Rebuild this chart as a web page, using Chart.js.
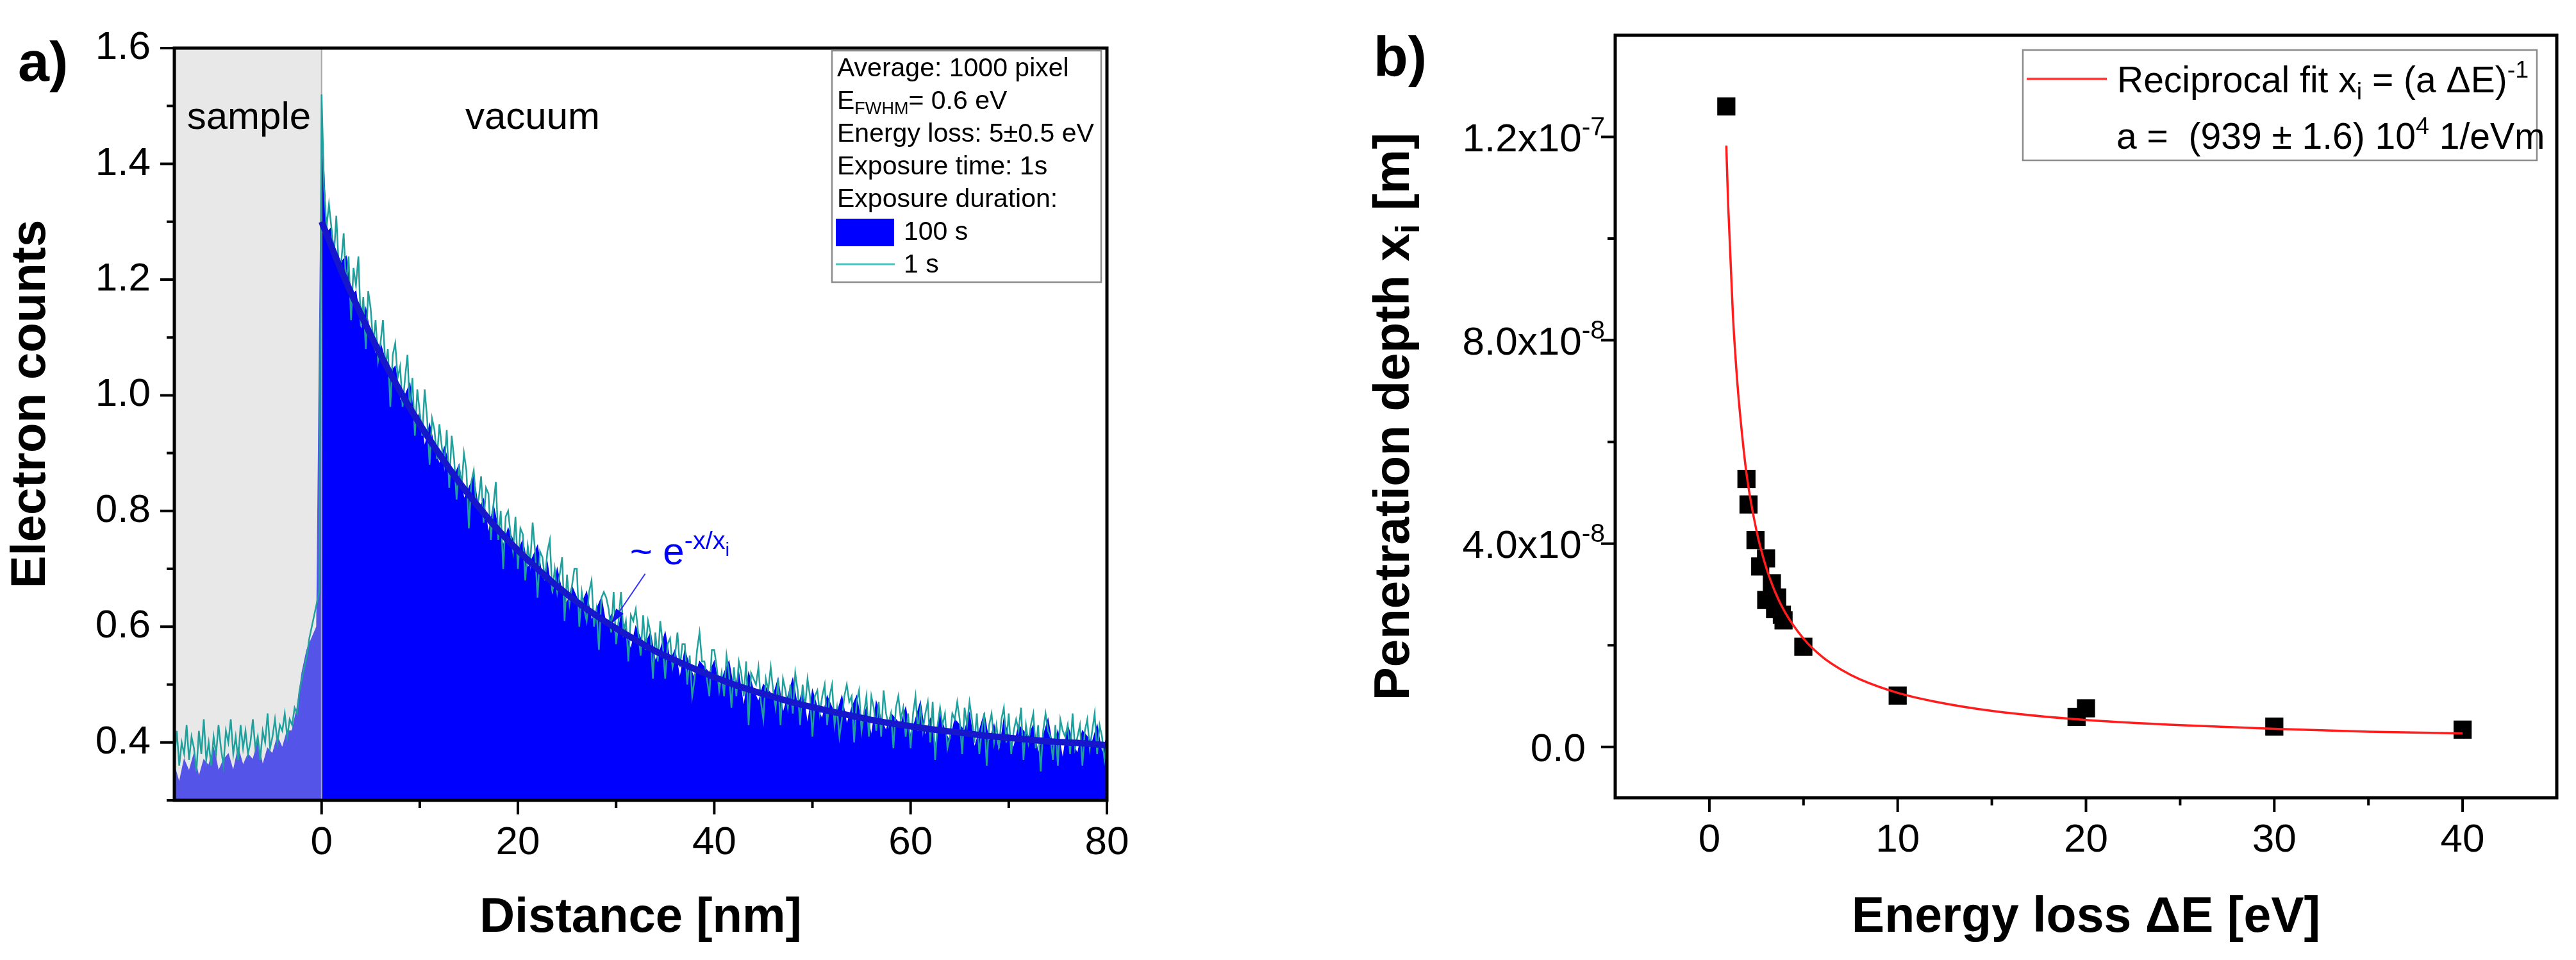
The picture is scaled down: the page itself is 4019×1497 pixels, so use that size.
<!DOCTYPE html>
<html>
<head>
<meta charset="utf-8">
<script src="https://cdn.jsdelivr.net/npm/chart.js@4.4.1/dist/chart.umd.min.js"></script>
<style>
  html, body { margin: 0; padding: 0; background: #fff; }
  body { width: 4019px; height: 1497px; position: relative; overflow: hidden; }
  #chartA { position: absolute; left: 0; top: 0; width: 2000px; height: 1497px; }
  #chartB { position: absolute; left: 2000px; top: 0; width: 2019px; height: 1497px; }
</style>
</head>
<body>
<canvas id="chartA" width="2000" height="1497"></canvas>
<canvas id="chartB" width="2019" height="1497"></canvas>
<script>
var FONT = '"Liberation Sans", Arial, Helvetica, sans-serif';

// ---------- panel a) : electron counts vs distance ----------
var distanceStart = -15;      // nm, first sample of both traces
var step1s = 0.25;            // nm between samples, 1 s trace
var counts1s = [
  0.37,0.42,0.36,0.40, 0.38,0.43,0.37,0.41, 0.39,0.35,0.42,0.38, 0.44,0.37,0.40,0.36,
  0.41,0.38,0.43,0.39, 0.36,0.42,0.40,0.44, 0.38,0.41,0.37,0.43, 0.39,0.42,0.38,0.40,
  0.44,0.39,0.41,0.37, 0.42,0.40,0.45,0.39, 0.41,0.44,0.40,0.43, 0.42,0.45,0.41,0.44,
  0.43,0.46,0.45,0.49, 0.51,0.53,0.55,0.58, 0.60,0.62,0.64,0.66,
  1.52,1.36,1.29,1.33, 1.29,1.24,1.31,1.22, 1.23,1.28,1.19,1.24, 1.13,1.22,1.19,1.24,
  1.12,1.17,1.08,1.18, 1.15,1.09,1.13,1.06, 1.09,1.13,1.05,1.08, 0.98,1.07,1.09,1.03,
  1.05,0.98,1.03,1.07, 0.97,1.03,0.93,1.01, 0.97,0.93,1.01,0.96, 0.88,0.96,0.94,0.89,
  0.95,0.91,0.88,0.94, 0.84,0.93,0.89,0.82, 0.88,0.84,0.90,0.87, 0.77,0.85,0.87,0.81,
  0.82,0.86,0.78,0.84, 0.83,0.75,0.81,0.85, 0.75,0.80,0.70,0.79, 0.80,0.76,0.73,0.79,
  0.70,0.77,0.76,0.68, 0.74,0.71,0.78,0.73, 0.65,0.73,0.72,0.68, 0.73,0.75,0.66,0.70,
  0.66,0.69,0.72,0.61, 0.69,0.64,0.67,0.70, 0.70,0.60,0.66,0.63, 0.61,0.66,0.68,0.60,
  0.63,0.56,0.65,0.66, 0.65,0.63,0.59,0.66, 0.57,0.61,0.66,0.59, 0.61,0.54,0.62,0.61,
  0.63,0.59,0.55,0.62, 0.56,0.61,0.59,0.51, 0.59,0.54,0.61,0.57, 0.51,0.57,0.58,0.53,
  0.55,0.59,0.53,0.57, 0.57,0.50,0.55,0.48, 0.51,0.56,0.59,0.54, 0.54,0.51,0.48,0.56,
  0.56,0.53,0.49,0.52, 0.48,0.55,0.52,0.46, 0.53,0.48,0.54,0.52, 0.48,0.54,0.43,0.52,
  0.51,0.50,0.53,0.47, 0.44,0.51,0.49,0.53, 0.49,0.46,0.51,0.43, 0.51,0.49,0.46,0.50,
  0.45,0.52,0.49,0.43, 0.50,0.46,0.51,0.48, 0.41,0.48,0.49,0.45, 0.48,0.50,0.43,0.48,
  0.50,0.43,0.46,0.41, 0.44,0.48,0.50,0.47, 0.48,0.40,0.47,0.49, 0.42,0.45,0.48,0.41,
  0.48,0.46,0.42,0.47, 0.41,0.49,0.45,0.43, 0.45,0.39,0.46,0.48, 0.44,0.46,0.41,0.45,
  0.39,0.45,0.48,0.42, 0.46,0.42,0.45,0.47, 0.40,0.47,0.37,0.43, 0.46,0.43,0.45,0.39,
  0.41,0.45,0.44,0.47, 0.44,0.38,0.46,0.43, 0.47,0.44,0.40,0.45, 0.38,0.42,0.45,0.36,
  0.43,0.45,0.40,0.43, 0.39,0.44,0.46,0.40, 0.45,0.38,0.42,0.44, 0.42,0.46,0.37,0.43,
  0.40,0.43,0.45,0.39, 0.43,0.35,0.42,0.45, 0.42,0.41,0.37,0.43, 0.36,0.44,0.42,0.41,
  0.43,0.38,0.45,0.39, 0.41,0.43,0.36,0.42, 0.44,0.39,0.42,0.45, 0.38,0.43,0.41,0.37,
  0.40
];
var step100s = 0.5;           // nm between samples, 100 s trace
var counts100s = [
  0.36,0.33,0.37,0.35,0.38,0.34,0.37,0.36,0.39,0.35,
  0.37,0.38,0.35,0.39,0.36,0.38,0.37,0.40,0.36,0.39,
  0.38,0.41,0.39,0.42,0.42,0.46,0.52,0.56,0.58,0.60,
  1.48,1.28,1.29,1.22,1.23,1.24,1.17,1.18,1.11,1.15,
  1.10,1.07,1.09,1.06,1.04,1.05,0.99,1.00,1.02,0.95,
  0.97,0.91,0.95,0.91,0.88,0.91,0.88,0.86,0.88,0.82,
  0.84,0.86,0.80,0.82,0.76,0.81,0.77,0.74,0.77,0.75,
  0.73,0.75,0.70,0.72,0.74,0.68,0.71,0.65,0.70,0.66,
  0.64,0.67,0.65,0.64,0.66,0.61,0.63,0.65,0.60,0.62,
  0.57,0.62,0.59,0.56,0.60,0.58,0.57,0.59,0.54,0.56,
  0.59,0.54,0.56,0.51,0.56,0.53,0.51,0.54,0.53,0.52,
  0.54,0.49,0.52,0.54,0.49,0.52,0.46,0.52,0.49,0.47,
  0.50,0.49,0.48,0.51,0.45,0.48,0.51,0.46,0.49,0.43,
  0.49,0.46,0.44,0.48,0.46,0.45,0.48,0.43,0.46,0.48,
  0.43,0.46,0.41,0.47,0.44,0.42,0.45,0.44,0.43,0.46,
  0.41,0.44,0.47,0.41,0.44,0.39,0.45,0.42,0.40,0.44,
  0.43,0.42,0.45,0.39,0.42,0.45,0.40,0.43,0.38,0.44,
  0.41,0.39,0.43,0.42,0.41,0.43,0.38,0.41,0.44,0.39,
  0.42,0.37,0.43,0.40,0.38,0.42,0.41,0.40,0.43,0.38,
  0.41
];
var fitDistance = [0,2,4,6,8,10,12,14,16,18,20,22,24,26,28,30,32,34,36,38,40,
                   42,44,46,48,50,52,54,56,58,60,62,64,66,68,70,72,74,76,78,80];
var fitCounts = [1.300,1.216,1.140,1.070,1.007,0.950,0.898,0.850,0.807,0.767,0.732,
                 0.700,0.670,0.643,0.619,0.597,0.577,0.558,0.542,0.527,0.513,
                 0.500,0.489,0.479,0.469,0.461,0.453,0.446,0.439,0.433,0.428,
                 0.423,0.419,0.415,0.411,0.408,0.405,0.402,0.400,0.398,0.395];
var distanceTicks = [0, 20, 40, 60, 80];
var countTicks = [0.4, 0.6, 0.8, 1.0, 1.2, 1.4, 1.6];
var sampleRange = [-15, 0];

// ---------- panel b) : penetration depth vs energy loss ----------
var energyLoss = [0.9, 1.97, 2.08, 2.45, 2.7, 3.01, 3.02, 3.32, 3.49, 3.6, 3.85, 3.94, 4.99, 10, 19.5, 20, 30, 40];
var penetrationDepth = [1.26e-7, 5.27e-8, 4.77e-8, 4.07e-8, 3.55e-8, 3.71e-8, 2.89e-8, 3.22e-8, 2.71e-8,
                        2.94e-8, 2.6e-8, 2.49e-8, 1.97e-8, 1.01e-8, 5.9e-9, 7.6e-9, 4.0e-9, 3.4e-9];
var fitEnergy = [0.9, 1, 1.25, 1.5, 1.75, 2, 2.5, 3, 3.5, 4, 5, 6, 7, 8, 10, 12, 15, 20, 25, 30, 35, 40];
var fitDepth = [1.183e-7, 1.065e-7, 8.5e-8, 7.1e-8, 6.1e-8, 5.3e-8, 4.26e-8, 3.55e-8, 3.04e-8, 2.66e-8,
                2.13e-8, 1.77e-8, 1.52e-8, 1.33e-8, 1.065e-8, 8.9e-9, 7.1e-9, 5.3e-9, 4.3e-9, 3.55e-9, 3.0e-9, 2.66e-9];
var energyTicks = [0, 10, 20, 30, 40];
var depthTicks = [0, 4e-8, 8e-8, 1.2e-7];
var depthTickMantissa = ['0.0', '4.0x10', '8.0x10', '1.2x10'];
var depthTickExponent = ['', '-8', '-8', '-7'];

// ---------- helpers ----------
function series(start, step, values) {
  return values.map(function (y, i) { return { x: start + i * step, y: y }; });
}
function zip(xs, ys) {
  return xs.map(function (x, i) { return { x: x, y: ys[i] }; });
}
function near(list, v, eps) {
  return list.some(function (t) { return Math.abs(t - v) < eps; });
}

// parts: [text, kind]  kind: '' | 'sub' | 'sup' | 'supsub'
function richText(ctx, x, y, parts, size, bold, align) {
  var w = bold ? 'bold ' : '';
  var sizes = { '': size, sub: size * 0.66, sup: size * 0.66, supsub: size * 0.5 };
  var shift = { '': 0, sub: size * 0.2, sup: -size * 0.4, supsub: -size * 0.22 };
  var widths = parts.map(function (p) {
    ctx.font = w + sizes[p[1] || ''] + 'px ' + FONT;
    return ctx.measureText(p[0]).width;
  });
  var total = widths.reduce(function (s, v) { return s + v; }, 0);
  var cx = align === 'right' ? x - total : (align === 'center' ? x - total / 2 : x);
  ctx.textAlign = 'left';
  ctx.textBaseline = 'alphabetic';
  parts.forEach(function (p, i) {
    var k = p[1] || '';
    ctx.font = w + sizes[k] + 'px ' + FONT;
    ctx.fillText(p[0], cx, y + shift[k]);
    cx += widths[i];
  });
}

function rotatedTitle(ctx, cx, cy, parts, size) {
  ctx.save();
  ctx.translate(cx, cy);
  ctx.rotate(-Math.PI / 2);
  richText(ctx, 0, size * 0.36, parts, size, true, 'center');
  ctx.restore();
}

function drawFrame(chart, xKind, yKind) {
  var ctx = chart.ctx, a = chart.chartArea;
  var sx = chart.scales.x, sy = chart.scales.y;
  ctx.save();
  ctx.strokeStyle = '#000';
  ctx.lineWidth = 5;
  ctx.strokeRect(a.left, a.top, a.right - a.left, a.bottom - a.top);
  ctx.lineWidth = 4;
  ctx.beginPath();
  sx.ticks.forEach(function (t) {
    var k = xKind(t.value);
    if (!k) return;
    var p = sx.getPixelForValue(t.value);
    ctx.moveTo(p, a.bottom);
    ctx.lineTo(p, a.bottom + (k === 2 ? 22 : 12));
  });
  sy.ticks.forEach(function (t) {
    var k = yKind(t.value);
    if (!k) return;
    var p = sy.getPixelForValue(t.value);
    ctx.moveTo(a.left, p);
    ctx.lineTo(a.left - (k === 2 ? 22 : 12), p);
  });
  ctx.stroke();
  ctx.restore();
}

function titleFont(size) {
  return { family: FONT, size: size, weight: 'bold', lineHeight: 1 };
}

// ---------- chart a ----------
var panelA = {
  id: 'panelA',
  afterDatasetDraw: function (chart, args) {
    if (args.index !== 2) return;   // right after the 100 s fill
    var ctx = chart.ctx, a = chart.chartArea, sx = chart.scales.x;
    var x0 = sx.getPixelForValue(sampleRange[0]), x1 = sx.getPixelForValue(sampleRange[1]);
    ctx.save();
    ctx.fillStyle = 'rgba(200,200,200,0.42)';
    ctx.fillRect(x0, a.top, x1 - x0, a.bottom - a.top);
    ctx.strokeStyle = '#a8a8a8';
    ctx.lineWidth = 2;
    ctx.beginPath();
    ctx.moveTo(x1, a.top);
    ctx.lineTo(x1, a.bottom);
    ctx.stroke();
    ctx.restore();
  },
  afterDraw: function (chart) {
    var ctx = chart.ctx, a = chart.chartArea, sx = chart.scales.x, sy = chart.scales.y;
    drawFrame(chart,
      function (v) { return distanceTicks.indexOf(v) >= 0 ? 2 : (Math.abs(v / 10 - Math.round(v / 10)) < 1e-9 ? 1 : 0); },
      function (v) { return near(countTicks, v, 1e-6) ? 2 : 1; });

    ctx.save();
    ctx.fillStyle = '#000';
    rotatedTitle(ctx, 43, 630, [['Electron counts']], 76);

    // region labels
    ctx.font = '60px ' + FONT;
    ctx.textAlign = 'center';
    ctx.textBaseline = 'alphabetic';
    ctx.fillText('sample', sx.getPixelForValue(-7.4), sy.getPixelForValue(1.46));
    ctx.fillText('vacuum', sx.getPixelForValue(21.5), sy.getPixelForValue(1.46));

    // legend box
    var lx = a.right - 429, ly = a.top + 4, lw = 420, lh = 361;
    ctx.fillStyle = '#fff';
    ctx.fillRect(lx, ly, lw, lh);
    ctx.strokeStyle = '#8c8c8c';
    ctx.lineWidth = 2.5;
    ctx.strokeRect(lx, ly, lw, lh);
    ctx.fillStyle = '#000';
    var tx = lx + 8, b0 = ly + 40, dl = 51, fs = 41;
    richText(ctx, tx, b0, [['Average: 1000 pixel']], fs);
    richText(ctx, tx, b0 + dl, [['E'], ['FWHM', 'sub'], ['= 0.6 eV']], fs);
    richText(ctx, tx, b0 + 2 * dl, [['Energy loss: 5\u00b10.5 eV']], fs);
    richText(ctx, tx, b0 + 3 * dl, [['Exposure time: 1s']], fs);
    richText(ctx, tx, b0 + 4 * dl, [['Exposure duration:']], fs);
    ctx.fillStyle = '#0000ff';
    ctx.fillRect(lx + 6, b0 + 5 * dl - 33, 91, 43);
    ctx.strokeStyle = '#48c4c4';
    ctx.lineWidth = 3;
    ctx.beginPath();
    ctx.moveTo(lx + 6, b0 + 6 * dl - 13);
    ctx.lineTo(lx + 98, b0 + 6 * dl - 13);
    ctx.stroke();
    ctx.fillStyle = '#000';
    richText(ctx, lx + 112, b0 + 5 * dl, [['100 s']], fs);
    richText(ctx, lx + 112, b0 + 6 * dl, [['1 s']], fs);

    // exponential annotation with arrow
    var tipX = sx.getPixelForValue(29.5), tipY = sy.getPixelForValue(0.605);
    var tailX = tipX + 53, tailY = tipY - 78;
    ctx.strokeStyle = '#3030ff';
    ctx.fillStyle = '#1010ee';
    ctx.lineWidth = 2;
    ctx.beginPath();
    ctx.moveTo(tailX, tailY);
    ctx.lineTo(tipX, tipY);
    ctx.stroke();
    var ang = Math.atan2(tipY - tailY, tipX - tailX);
    ctx.beginPath();
    ctx.moveTo(tipX, tipY);
    ctx.lineTo(tipX - 24 * Math.cos(ang) + 7 * Math.sin(ang), tipY - 24 * Math.sin(ang) - 7 * Math.cos(ang));
    ctx.lineTo(tipX - 24 * Math.cos(ang) - 7 * Math.sin(ang), tipY - 24 * Math.sin(ang) + 7 * Math.cos(ang));
    ctx.closePath();
    ctx.fill();
    ctx.fillStyle = '#0000ff';
    richText(ctx, sx.getPixelForValue(31.4), sy.getPixelForValue(0.708),
      [['~ e'], ['-x/x', 'sup'], ['i', 'supsub']], 60);

    // panel letter
    ctx.fillStyle = '#000';
    ctx.font = 'bold 88px ' + FONT;
    ctx.textAlign = 'left';
    ctx.fillText('a)', 28, 126);
    ctx.restore();
  }
};

new Chart(document.getElementById('chartA'), {
  type: 'line',
  data: {
    datasets: [
      { label: 'exp fit', data: zip(fitDistance, fitCounts), borderColor: '#1616cc', borderWidth: 10,
        pointRadius: 0, cubicInterpolationMode: 'monotone', fill: false, order: 1 },
      { label: '1 s', data: series(distanceStart, step1s, counts1s), borderColor: '#1fa09c', borderWidth: 2.5,
        pointRadius: 0, fill: false, order: 2 },
      { label: '100 s', data: series(distanceStart, step100s, counts100s), borderColor: '#0000ff', borderWidth: 1.5,
        backgroundColor: '#0000ff', fill: 'start', pointRadius: 0, order: 3 }
    ]
  },
  options: {
    responsive: false,
    animation: false,
    devicePixelRatio: 1,
    events: [],
    layout: { padding: { left: 0, top: 75, right: 273, bottom: 0 } },
    plugins: { legend: { display: false }, tooltip: { enabled: false } },
    scales: {
      x: {
        type: 'linear', min: -15, max: 80,
        afterFit: function (s) { s.height = 249; },
        border: { display: false },
        grid: { display: false, drawTicks: false },
        ticks: {
          stepSize: 10, autoSkip: false, maxRotation: 0, padding: 30, color: '#000',
          font: { family: FONT, size: 62 },
          callback: function (v) { return distanceTicks.indexOf(v) >= 0 ? String(v) : ''; }
        },
        title: { display: true, text: 'Distance [nm]', color: '#000', font: titleFont(76), padding: { top: 0, bottom: 27 } }
      },
      y: {
        type: 'linear', min: 0.3, max: 1.6,
        afterFit: function (s) { s.width = 272; },
        border: { display: false },
        grid: { display: false, drawTicks: false },
        ticks: {
          stepSize: 0.1, autoSkip: false, padding: 37, color: '#000',
          font: { family: FONT, size: 62 },
          callback: function (v) { return near(countTicks, v, 1e-6) ? v.toFixed(1) : ''; }
        },
        title: { display: false }
      }
    }
  },
  plugins: [panelA]
});

// ---------- chart b ----------
var panelB = {
  id: 'panelB',
  afterDraw: function (chart) {
    var ctx = chart.ctx, a = chart.chartArea, sy = chart.scales.y;
    drawFrame(chart,
      function (v) { return energyTicks.indexOf(v) >= 0 ? 2 : ((v > -5 && v < 45) ? 1 : 0); },
      function (v) {
        if (near(depthTicks, v, 1e-12)) return 2;
        return (v > -1e-8 + 1e-12 && v < 1.4e-7 - 1e-12) ? 1 : 0;
      });

    ctx.save();
    ctx.fillStyle = '#000';
    // y tick labels with powers of ten
    depthTicks.forEach(function (v, i) {
      var p = sy.getPixelForValue(v);
      var parts = [[depthTickMantissa[i]]];
      if (depthTickExponent[i]) parts.push([depthTickExponent[i], 'sup']);
      richText(ctx, a.left - (depthTickExponent[i] ? 16 : 46), p + 22, parts, 62, false, 'right');
    });

    // y axis title with subscript
    rotatedTitle(ctx, 170, (a.top + a.bottom) / 2, [['Penetration depth x'], ['i', 'sub'], [' [m]']], 78);

    // legend
    var bx = a.right - 833, by = a.top + 23, bw = 802, bh = 172;
    ctx.fillStyle = '#fff';
    ctx.fillRect(bx, by, bw, bh);
    ctx.strokeStyle = '#8c8c8c';
    ctx.lineWidth = 2.5;
    ctx.strokeRect(bx, by, bw, bh);
    ctx.strokeStyle = '#ff3030';
    ctx.lineWidth = 3.5;
    ctx.beginPath();
    ctx.moveTo(bx + 6, by + 45);
    ctx.lineTo(bx + 131, by + 45);
    ctx.stroke();
    ctx.fillStyle = '#000';
    richText(ctx, bx + 147, by + 66, [['Reciprocal fit x'], ['i', 'sub'], [' = (a \u0394E)'], ['-1', 'sup']], 57);
    richText(ctx, bx + 146, by + 154, [['a =  (939 \u00b1 1.6) 10'], ['4', 'sup'], [' 1/eVm']], 57);

    ctx.font = 'bold 88px ' + FONT;
    ctx.textAlign = 'left';
    ctx.fillText('b)', 143, 118);
    ctx.restore();
  }
};

new Chart(document.getElementById('chartB'), {
  type: 'line',
  data: {
    datasets: [
      { label: 'Reciprocal fit', data: zip(fitEnergy, fitDepth), borderColor: '#ff1c1c', borderWidth: 3.5,
        pointRadius: 0, cubicInterpolationMode: 'monotone', fill: false, order: 1 },
      { label: 'Penetration depth', data: zip(energyLoss, penetrationDepth), showLine: false,
        pointStyle: 'rect', pointRadius: 20, pointBackgroundColor: '#000', pointBorderWidth: 0,
        borderColor: '#000', fill: false, order: 2 }
    ]
  },
  options: {
    responsive: false,
    animation: false,
    devicePixelRatio: 1,
    events: [],
    layout: { padding: { left: 0, top: 55, right: 24, bottom: 0 } },
    plugins: { legend: { display: false }, tooltip: { enabled: false } },
    scales: {
      x: {
        type: 'linear', min: -5, max: 45,
        afterFit: function (s) { s.height = 253; },
        border: { display: false },
        grid: { display: false, drawTicks: false },
        ticks: {
          stepSize: 5, autoSkip: false, maxRotation: 0, padding: 30, color: '#000',
          font: { family: FONT, size: 62 },
          callback: function (v) { return energyTicks.indexOf(v) >= 0 ? String(v) : ''; }
        },
        title: { display: true, text: 'Energy loss \u0394E [eV]', color: '#000', font: titleFont(77), padding: { top: 0, bottom: 27 } }
      },
      y: {
        type: 'linear', min: -1e-8, max: 1.4e-7,
        afterFit: function (s) { s.width = 520; },
        border: { display: false },
        grid: { display: false, drawTicks: false },
        ticks: { stepSize: 2e-8, autoSkip: false, callback: function () { return ''; } },
        title: { display: false }
      }
    }
  },
  plugins: [panelB]
});
</script>
</body>
</html>
